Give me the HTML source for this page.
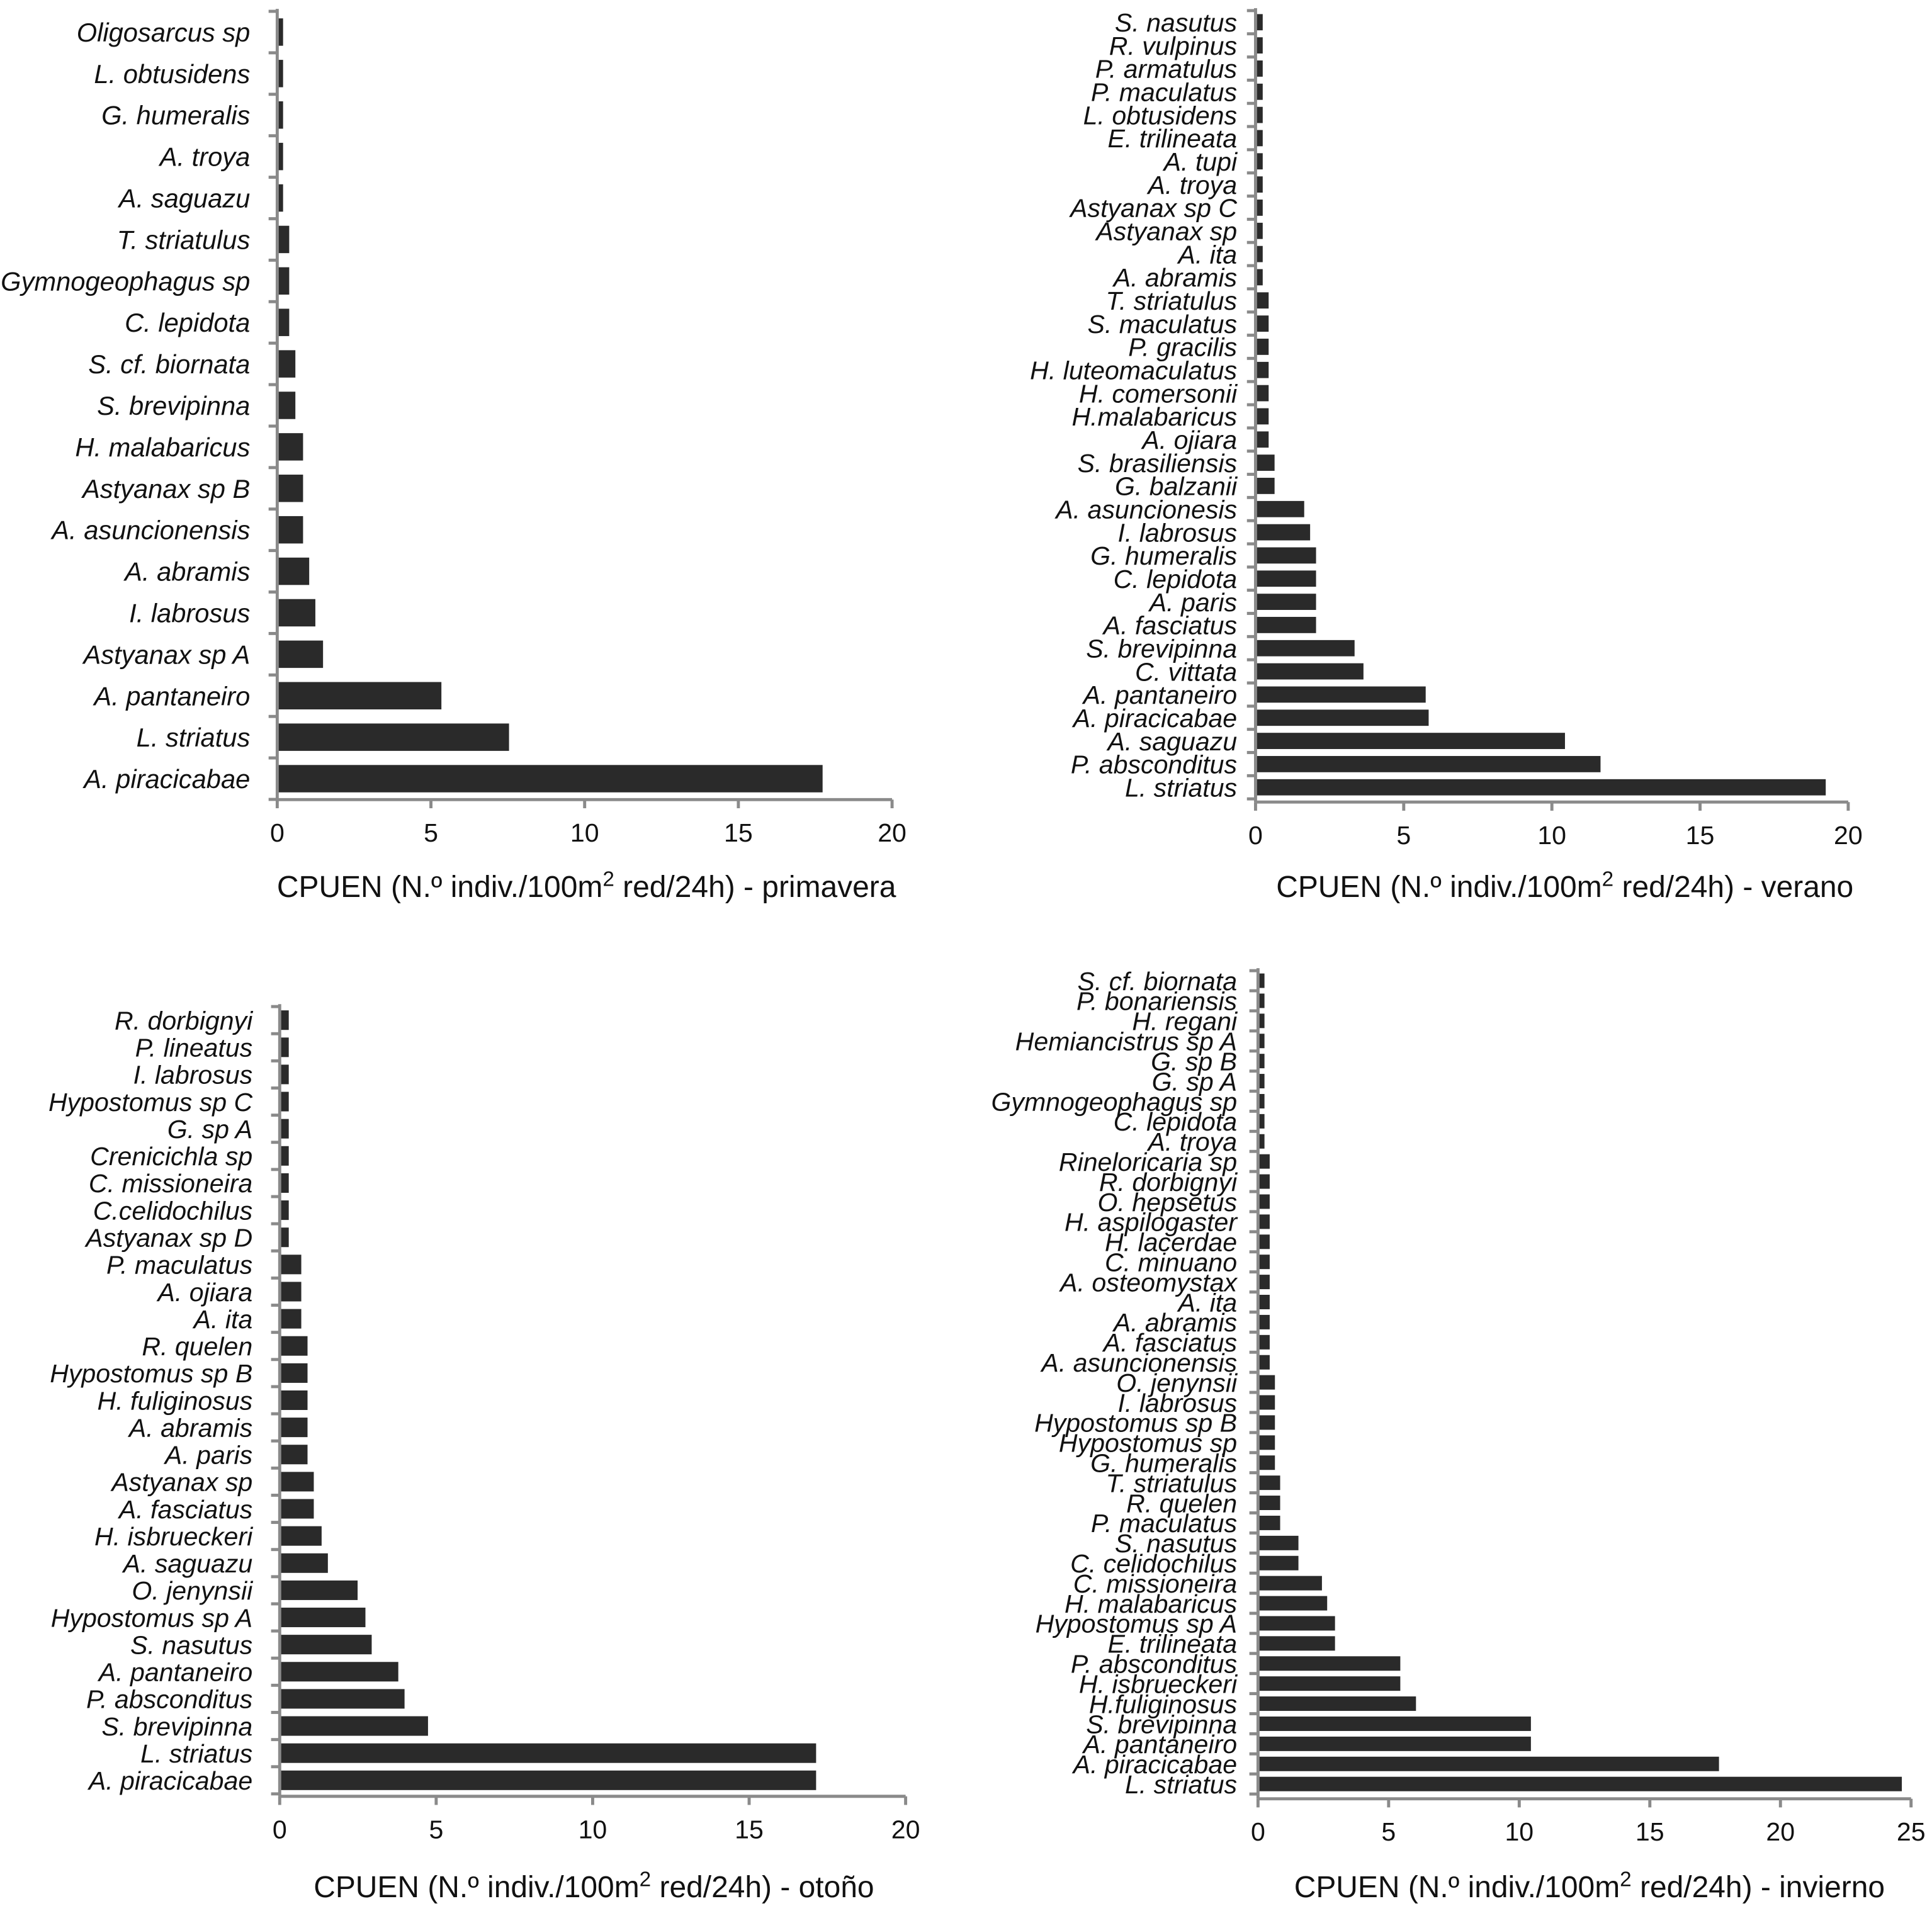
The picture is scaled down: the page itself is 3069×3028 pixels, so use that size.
<!DOCTYPE html>
<html><head><meta charset="utf-8"><style>
html,body{margin:0;padding:0;background:#fff}
svg{display:block}
text{font-family:"Liberation Sans",sans-serif;fill:#111}
</style></head><body>
<svg id="chart" width="3069" height="3028" viewBox="0 0 1568 1547" xmlns="http://www.w3.org/2000/svg"></svg>
<script>
const primaveraCats=["Oligosarcus  sp","L. obtusidens","G. humeralis","A. troya","A. saguazu","T. striatulus","Gymnogeophagus sp","C. lepidota","S. cf. biornata","S. brevipinna","H. malabaricus","Astyanax sp B","A. asuncionensis","A. abramis","I. labrosus","Astyanax sp A","A. pantaneiro","L. striatus","A. piracicabae"];
const primaveraVals=[0.15,0.15,0.15,0.15,0.15,0.35,0.35,0.35,0.55,0.55,0.8,0.8,0.8,1.0,1.2,1.45,5.3,7.5,17.7];
const veranoCats=["S. nasutus","R. vulpinus","P. armatulus","P. maculatus","L. obtusidens","E. trilineata","A. tupi","A. troya","Astyanax sp C","Astyanax sp","A. ita","A. abramis","T. striatulus","S. maculatus","P. gracilis","H. luteomaculatus","H. comersonii","H.malabaricus","A. ojiara","S. brasiliensis","G. balzanii","A. asuncionesis","I. labrosus","G. humeralis","C. lepidota","A. paris","A. fasciatus","S. brevipinna","C. vittata","A. pantaneiro","A. piracicabae","A. saguazu","P. absconditus","L. striatus"];
const veranoVals=[0.2,0.2,0.2,0.2,0.2,0.2,0.2,0.2,0.2,0.2,0.2,0.2,0.4,0.4,0.4,0.4,0.4,0.4,0.4,0.6,0.6,1.6,1.8,2.0,2.0,2.0,2.0,3.3,3.6,5.7,5.8,10.4,11.6,19.2];
const otonoCats=["R. dorbignyi","P. lineatus","I. labrosus","Hypostomus sp C","G. sp A","Crenicichla sp","C. missioneira","C.celidochilus","Astyanax sp D","P. maculatus","A. ojiara","A. ita","R. quelen","Hypostomus sp B","H. fuliginosus","A. abramis","A. paris","Astyanax sp","A. fasciatus","H. isbrueckeri","A. saguazu","O. jenynsii","Hypostomus sp A","S. nasutus","A. pantaneiro","P. absconditus","S. brevipinna","L. striatus","A. piracicabae"];
const otonoVals=[0.25,0.25,0.25,0.25,0.25,0.25,0.25,0.25,0.25,0.65,0.65,0.65,0.85,0.85,0.85,0.85,0.85,1.05,1.05,1.3,1.5,2.45,2.7,2.9,3.75,3.95,4.7,17.1,17.1];
const inviernoCats=["S. cf. biornata","P. bonariensis","H. regani","Hemiancistrus sp A","G. sp B","G. sp A","Gymnogeophagus sp","C. lepidota","A. troya","Rineloricaria sp","R. dorbignyi","O. hepsetus","H. aspilogaster","H. lacerdae","C. minuano","A. osteomystax","A. ita","A. abramis","A. fasciatus","A. asuncionensis","O. jenynsii","I. labrosus","Hypostomus sp B","Hypostomus sp","G. humeralis","T. striatulus","R. quelen","P. maculatus","S. nasutus","C. celidochilus","C. missioneira","H. malabaricus","Hypostomus sp A","E. trilineata","P. absconditus","H. isbrueckeri","H.fuliginosus","S. brevipinna","A. pantaneiro","A. piracicabae","L. striatus"];
const inviernoVals=[0.2,0.2,0.2,0.2,0.2,0.2,0.2,0.2,0.2,0.4,0.4,0.4,0.4,0.4,0.4,0.4,0.4,0.4,0.4,0.4,0.6,0.6,0.6,0.6,0.6,0.8,0.8,0.8,1.5,1.5,2.4,2.6,2.9,2.9,5.4,5.4,6.0,10.4,10.4,17.6,24.6];
const ticks20=[0,5,10,15,20];
const ticks25=[0,5,10,15,20,25];

const NS="http://www.w3.org/2000/svg";
const svg=document.getElementById('chart');
function mk(tag,attrs,parent){const e=document.createElementNS(NS,tag);for(const k in attrs)e.setAttribute(k,attrs[k]);parent.appendChild(e);return e;}

function panel(name,cats,vals,ticks,cfg){
  const g=mk('g',{},svg);
  
  
  const max=ticks[ticks.length-1];
  const x=v=>cfg.x0+(cfg.x1-cfg.x0)*v/max;
  const n=cats.length;
  const step=(cfg.yLast-cfg.yFirst)/(n-1);
  const y=i=>cfg.yFirst+i*step;
  const bh=step*cfg.bf;
  cats.forEach((c,i)=>{
    const r=mk('rect',{x:x(0)+1,y:y(i)-bh/2,width:Math.max(0,x(vals[i])-x(0)),height:bh,fill:'#2a2a2a'},g);
    
    
    const t=mk('text',{x:cfg.x0-cfg.off,y:y(i)+cfg.fs*0.36,'text-anchor':'end','font-size':cfg.fs,'font-style':'italic'},g);
    t.textContent=c;
    
    
  });
  for(let i=0;i<=n;i++){
    const yy=y(0)-step/2+i*step;
    mk('line',{x1:cfg.x0-7,x2:cfg.x0,y1:yy,y2:yy,stroke:'#8a8a8a','stroke-width':2.5},g);
  }
  const yAxis=mk('line',{x1:cfg.x0,x2:cfg.x0,y1:y(0)-step/2-2,y2:cfg.yAxis,stroke:'#8a8a8a','stroke-width':2.5},g);
  
  
  const xAxis=mk('line',{x1:cfg.x0,x2:cfg.x1,y1:cfg.yAxis,y2:cfg.yAxis,stroke:'#8a8a8a','stroke-width':2.5},g);
  
  
  ticks.forEach(tv=>{
    mk('line',{x1:x(tv),x2:x(tv),y1:cfg.yAxis,y2:cfg.yAxis+7,stroke:'#8a8a8a','stroke-width':2.5},g);
    const t=mk('text',{x:x(tv),y:cfg.yAxis+34,'text-anchor':'middle','font-size':21},g);
    t.textContent=tv;
    
    
  });
  const tt=mk('text',{x:cfg.tx,y:cfg.ty,'text-anchor':'middle','font-size':24.5},g);
  
  
  tt.innerHTML='CPUEN (N.º indiv./100m<tspan dy="-9" font-size="17">2</tspan><tspan dy="9"> red/24h) - '+cfg.season+'</tspan>';
}
panel('primavera',primaveraCats,primaveraVals,ticks20,{x0:225,x1:724,yFirst:26,yLast:632,yAxis:649,bf:0.66,fs:21.3,off:22,tx:476,ty:728,season:'primavera'});
panel('verano',veranoCats,veranoVals,ticks20,{x0:1019,x1:1500,yFirst:18,yLast:639,yAxis:651,bf:0.7,fs:21,off:15,tx:1270,ty:728,season:'verano'});
panel('otono',otonoCats,otonoVals,ticks20,{x0:227,x1:735,yFirst:828,yLast:1445,yAxis:1458,bf:0.72,fs:21,off:22,tx:482,ty:1540,season:'otoño'});
panel('invierno',inviernoCats,inviernoVals,ticks25,{x0:1021,x1:1551,yFirst:796,yLast:1448,yAxis:1460,bf:0.72,fs:21,off:17,tx:1290,ty:1540,season:'invierno'});
</script>
</body></html>
